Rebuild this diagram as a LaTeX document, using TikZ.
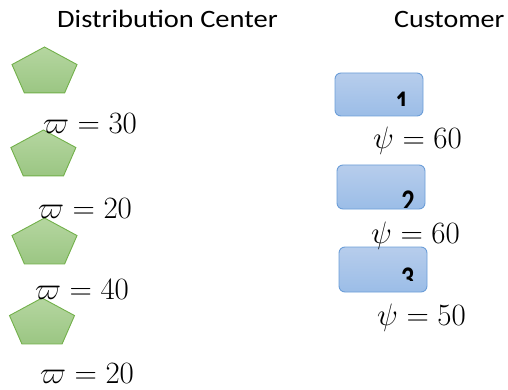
\documentclass[tikz,border=0pt]{standalone}
\usepackage{fontspec}
\newfontfamily\carlito{Carlito}
\usetikzlibrary{shapes.geometric}
\definecolor{pentfillA}{RGB}{181,214,160}
\definecolor{pentfillB}{RGB}{155,198,131}
\definecolor{pentline}{RGB}{114,176,74}
\definecolor{boxfillA}{RGB}{183,205,236}
\definecolor{boxfillB}{RGB}{155,189,231}
\definecolor{boxline}{RGB}{108,158,216}
\newcommand{\mlab}[1]{\scalebox{1.245}{$#1$}}
\newcommand{\talldigit}[1]{\scalebox{1.2}[1.5]{#1}}
\begin{document}
\begin{tikzpicture}[x=1pt,y=1pt,
 pent/.style={regular polygon, regular polygon sides=5, minimum size=50.8pt, inner sep=0pt, xscale=1.346, transform shape, top color=pentfillA, bottom color=pentfillB, draw=pentline, line width=0.9pt},
 custbox/.style={rounded corners=6pt, minimum width=88pt, minimum height=44pt, inner sep=0pt, top color=boxfillA, bottom color=boxfillB, draw=boxline, line width=0.9pt},
 title/.style={anchor=base west, inner sep=0pt, font=\carlito\fontsize{25}{30}\selectfont},
 lab/.style={anchor=base west, inner sep=0pt, font=\fontsize{24.88}{30}\selectfont},
 digit/.style={anchor=base, inner sep=0pt, font=\carlito\bfseries\fontsize{22}{26}\selectfont}]
\useasboundingbox (0,0) rectangle (508,-390);
% pentagons
\begin{scope}[shift={(44.5,-72.4)}]\node[pent] (p1) at (0,0) {};\end{scope}
\begin{scope}[shift={(43.4,-155.4)}]\node[pent] (p2) at (0,0) {};\end{scope}
\begin{scope}[shift={(44.5,-243.4)}]\node[pent] (p3) at (0,0) {};\end{scope}
\begin{scope}[shift={(42.0,-323.4)}]\node[pent] (p4) at (0,0) {};\end{scope}
% customer boxes
\node[custbox, minimum height=43pt] (c1) at (379,-94.5) {};
\node[custbox] (c2) at (381,-187) {};
\node[custbox, minimum height=45pt] (c3) at (383,-269.5) {};
\begin{scope}\clip (335,-73) rectangle (423,-106);
\node[digit] (d1) at (402,-113.8) {\talldigit{1}};\end{scope}
\begin{scope}\clip (337,-165) rectangle (425,-207);
\node[digit] (d2) at (408,-212.8) {\talldigit{2}};\end{scope}
\begin{scope}\clip (339,-247) rectangle (427,-280);
\node[digit] (d3) at (407.5,-289.8) {\talldigit{3}};\end{scope}
% titles
\node[title] (t1) at (57,-27.5) {\scalebox{1.14}[1]{Distribution Center}};
\node[title] (t2) at (394,-27.5) {\scalebox{1.12}[1]{Customer}};
% labels
\node[lab] (w1) at (43,-134) {\mlab{\varpi = 30}};
\node[lab] (w2) at (38,-218.5) {\mlab{\varpi = 20}};
\node[lab] (w3) at (35,-299) {\mlab{\varpi = 40}};
\node[lab] (w4) at (40,-383) {\mlab{\varpi = 20}};
\node[lab] (s1) at (373,-148.5) {\mlab{\psi = 60}};
\node[lab] (s2) at (371,-243) {\mlab{\psi = 60}};
\node[lab] (s3) at (377,-325.5) {\mlab{\psi = 50}};
\end{tikzpicture}
\end{document}
